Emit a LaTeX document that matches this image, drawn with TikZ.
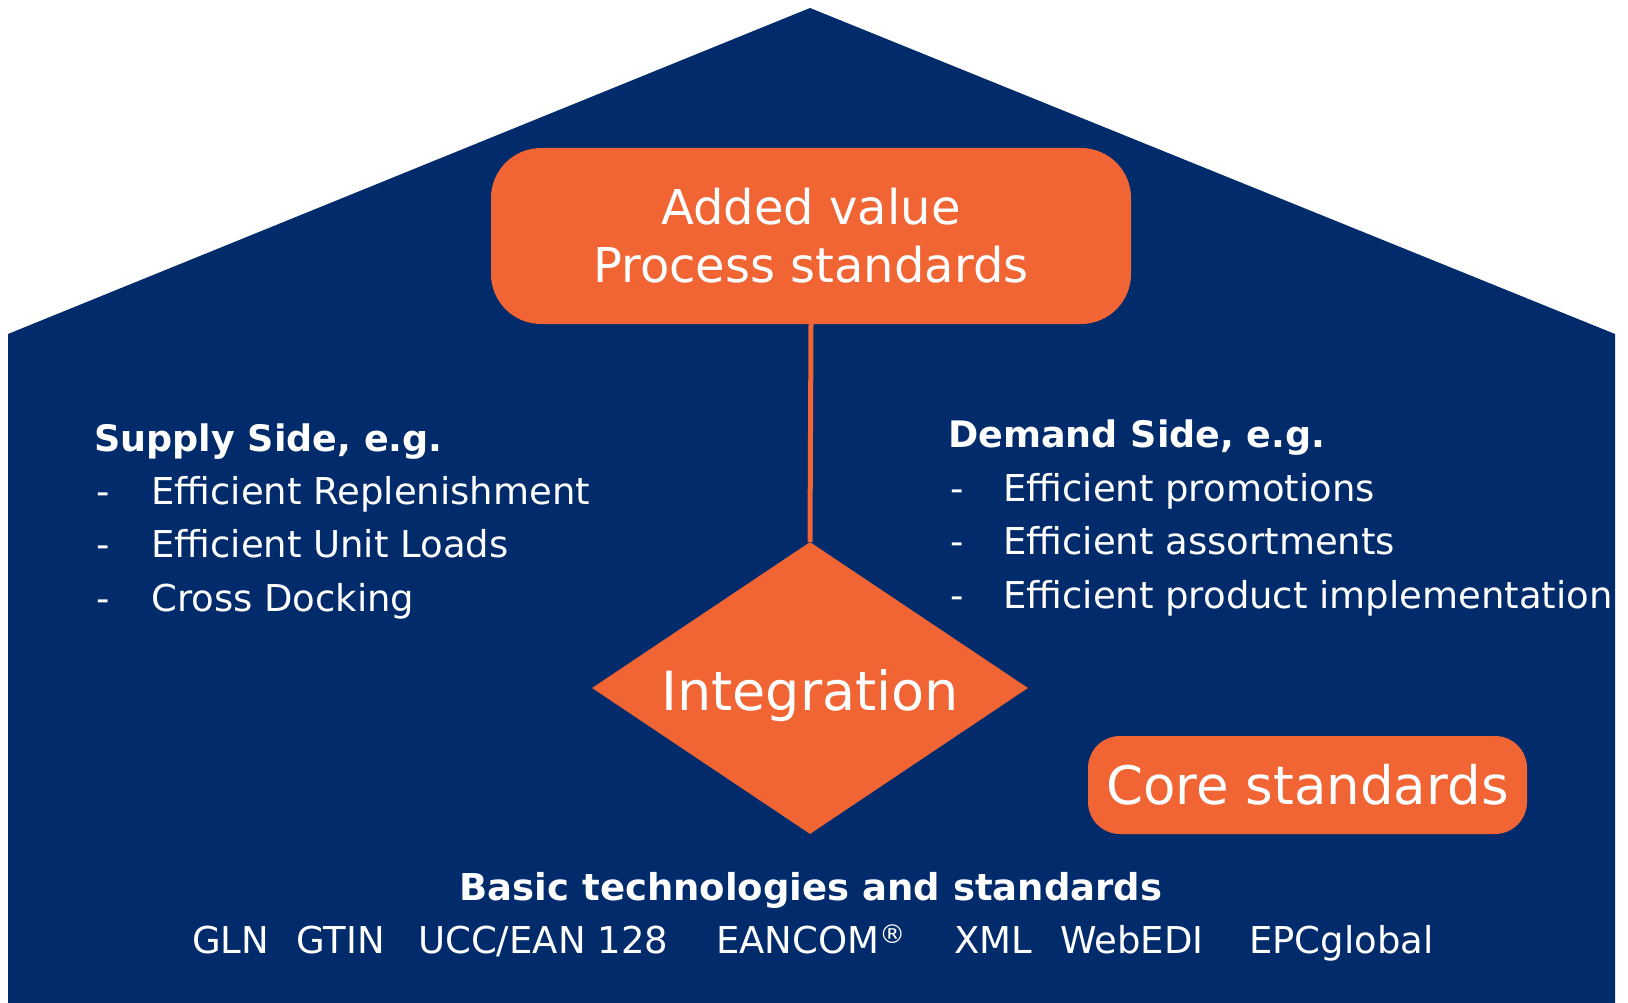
\documentclass[tikz,border=0pt]{standalone}
\usepackage{fontspec}
\setmainfont{DejaVu Sans}
\usetikzlibrary{shapes.geometric}
\definecolor{navy}{HTML}{012B6B}
\definecolor{orng}{HTML}{F16434}
\begin{document}
\begin{tikzpicture}[x=1pt,y=-1pt,
  obox/.style={fill=orng, text=white, inner sep=0pt, align=center},
  txt/.style={text=white, inner sep=0pt, anchor=base west, font=\fontsize{37}{43}\selectfont},
  hdr/.style={txt, font=\fontsize{36.5}{43}\selectfont\bfseries},
  dashmark/.style={txt}]
\useasboundingbox (0,0) rectangle (1628,1003);
% house
\fill[navy] (8,334) -- (810,8) -- (1615,334) -- (1615,1003) -- (8,1003) -- cycle;
% boxes
\node[obox, minimum width=640pt, minimum height=176pt, rounded corners=50pt,
      font=\fontsize{48}{58}\selectfont] (top) at (811,236) {Added value\\Process standards};
\node[diamond, fill=orng, text=white, inner sep=0pt, aspect=1.49,
      minimum width=436pt, minimum height=292pt, text height=57pt, text depth=13pt,
      font=\fontsize{54}{60}\selectfont] (integ) at (810,688) {Integration};
\draw[orng, line width=5pt] (top.south) -- (integ.north);
\node[obox, minimum width=439pt, minimum height=98pt, rounded corners=32pt,
      font=\fontsize{53}{60}\selectfont] (core) at (1307.5,785) {Core standards};
% supply side
\node[hdr] (suph) at (94,451) {Supply Side, e.g.};
\node[dashmark] (sd1) at (96,504) {-};
\node[txt] (s1) at (151,504) {Efficient Replenishment};
\node[dashmark] (sd2) at (96,557) {-};
\node[txt] (s2) at (151,557) {Efficient Unit Loads};
\node[dashmark] (sd3) at (96,611) {-};
\node[txt] (s3) at (151,611) {Cross Docking};
% demand side
\node[hdr] (demh) at (948,447) {Demand Side, e.g.};
\node[dashmark] (dd1) at (950,501) {-};
\node[txt] (d1) at (1003,501) {Efficient promotions};
\node[dashmark] (dd2) at (950,554) {-};
\node[txt] (d2) at (1003,554) {Efficient assortments};
\node[dashmark] (dd3) at (950,608) {-};
\node[txt] (d3) at (1003,608) {Efficient product implementation};
% basic technologies
\node[hdr, anchor=base, font=\fontsize{37}{43}\selectfont\bfseries] (basic) at (811,900) {Basic technologies and standards};
\node[txt] (gln) at (192,953) {GLN};
\node[txt] (gtin) at (296,953) {GTIN};
\node[txt] (ucc) at (418,953) {UCC/EAN 128};
\node[txt] (ean) at (716,953) {EANCOM\textsuperscript{®}};
\node[txt] (xml) at (954,953) {XML};
\node[txt] (web) at (1060,953) {WebEDI};
\node[txt] (epc) at (1249,953) {EPCglobal};
\end{tikzpicture}
\end{document}
